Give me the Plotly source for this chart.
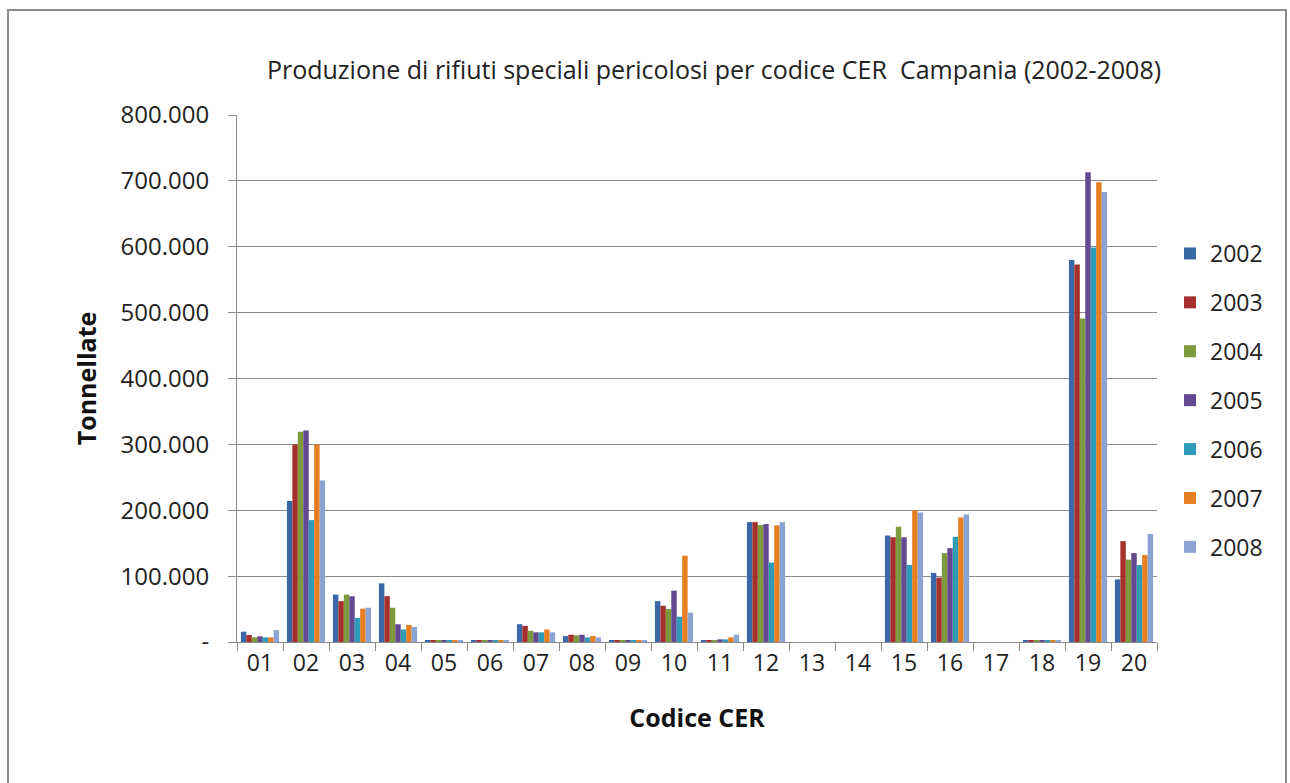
import plotly.graph_objects as go

categories = ["01","02","03","04","05","06","07","08","09","10","11","12","13","14","15","16","17","18","19","20"]
years = ["2002","2003","2004","2005","2006","2007","2008"]

v2002 = [15700, 214000, 72000, 89000, 2000, 3000, 27000, 9000, 2500, 62000, 2500, 182000, 0, 0, 161700, 105000, 0, 2500, 580000, 95000]
v2003 = [10600, 300000, 62000, 69500, 2000, 3000, 24500, 11000, 2500, 55000, 2500, 182000, 0, 0, 159000, 97800, 0, 2500, 573000, 153000]
v2004 = [7000, 319000, 72000, 52000, 2000, 3000, 17000, 10000, 2500, 50000, 2500, 177500, 0, 0, 175000, 135000, 0, 2500, 491000, 125000]
v2005 = [8600, 321000, 69500, 27000, 2000, 3000, 14700, 11000, 2500, 78000, 4000, 179000, 0, 0, 159000, 142500, 0, 2500, 713000, 135000]
v2006 = [7000, 185000, 36500, 19000, 2000, 3000, 14700, 7000, 2500, 38500, 4000, 120600, 0, 0, 117000, 159700, 0, 2500, 599000, 117000]
v2007 = [7000, 300000, 50700, 26000, 2000, 3000, 19000, 9000, 2500, 131000, 7000, 177000, 0, 0, 200000, 189000, 0, 2500, 698000, 132000]
v2008 = [18000, 245000, 52000, 23000, 2000, 3000, 14700, 7000, 2500, 44600, 11000, 182000, 0, 0, 196700, 193600, 0, 2500, 683000, 164000]

series = [v2002, v2003, v2004, v2005, v2006, v2007, v2008]
colors = ["#3A67A5", "#A5302D", "#7D9B3C", "#63498F", "#2E9BB8", "#E67E22", "#8BA5D2"]

ytickvals = [0, 100000, 200000, 300000, 400000, 500000, 600000, 700000, 800000]
yticktext = ["-", "100.000", "200.000", "300.000", "400.000", "500.000", "600.000", "700.000", "800.000"]

FONT = "Open Sans"

fig = go.Figure()
for i, (yr, vals) in enumerate(zip(years, series)):
    fig.add_trace(go.Bar(
        x=categories, y=vals, name=yr, legendgroup=yr,
        marker=dict(color=colors[i], line=dict(width=0)),
    ))

W, H = 1290, 783
L, R, T, B = 237, 133, 115, 141
pw, ph = W - L - R, H - T - B

def px_to_paper_x(px):
    return (px - L) / pw

def px_to_paper_y(py):
    return (H - B - py) / ph

fig.update_layout(
    width=W, height=H,
    margin=dict(l=L, r=R, t=T, b=B),
    paper_bgcolor="white", plot_bgcolor="white",
    barmode="group", bargap=0.17, bargroupgap=0,
    font=dict(family=FONT, size=23, color="#222222"),
    title=dict(
        text="Produzione di rifiuti speciali pericolosi per codice CER\u00a0 Campania (2002-2008)",
        x=px_to_paper_x(714), xref="paper", xanchor="center",
        y=1 - 70 / H, yref="container", yanchor="middle",
        font=dict(family=FONT, size=25, color="#222222"),
    ),
    xaxis=dict(
        type="category",
        showgrid=False,
        showline=True, linecolor="#8c8c8c", linewidth=1,
        ticks="outside", ticklen=8, tickcolor="#8c8c8c", tickson="boundaries",
        tickfont=dict(family=FONT, size=23, color="#222222"),
        title=dict(text="<b>Codice CER</b>", font=dict(family=FONT, size=25, color="#111111"), standoff=32),
    ),
    yaxis=dict(
        range=[0, 800000],
        tickvals=ytickvals, ticktext=yticktext,
        showgrid=True, gridcolor="#8c8c8c", gridwidth=1,
        showline=True, linecolor="#8c8c8c", linewidth=1,
        zeroline=False,
        ticks="outside", ticklen=8, tickcolor="#8c8c8c",
        ticklabelstandoff=14,
        tickfont=dict(family=FONT, size=24, color="#222222"),
        title=dict(text="<b>Tonnellate</b>", font=dict(family=FONT, size=25, color="#111111"), standoff=16),
    ),
    legend=dict(
        x=px_to_paper_x(1170), xanchor="left",
        y=px_to_paper_y(232), yanchor="top",
        font=dict(family=FONT, size=23, color="#222222"),
        tracegroupgap=16, itemwidth=30,
        bgcolor="rgba(0,0,0,0)",
    ),
    showlegend=True,
    shapes=[dict(
        type="rect", xref="paper", yref="paper",
        x0=px_to_paper_x(8), x1=px_to_paper_x(1286),
        y0=px_to_paper_y(790), y1=px_to_paper_y(10),
        line=dict(color="#8c8c8c", width=2), fillcolor="rgba(0,0,0,0)", layer="below",
    )],
)

fig.write_html("out.html", config={"displayModeBar": False},
               post_script="document.body.style.margin='0';")
